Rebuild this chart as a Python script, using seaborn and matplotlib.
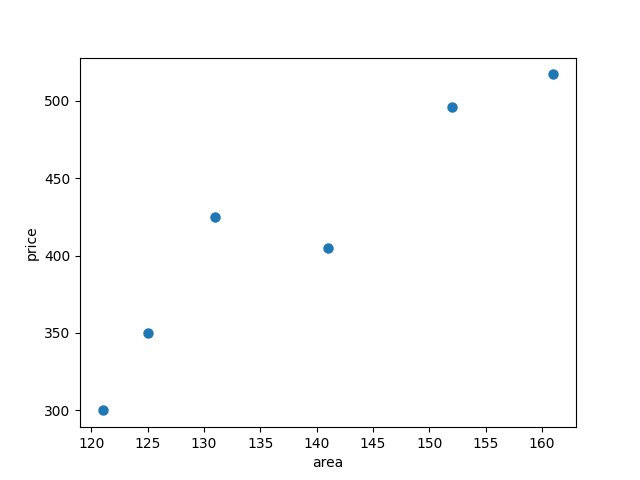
import matplotlib
matplotlib.use("Agg")
import matplotlib.pyplot as plt
import seaborn as sns
import pandas as pd

# dados
area = [121, 125, 131, 141, 152, 161]
price = [300, 350, 425, 405, 496, 517]

df = pd.DataFrame({"area": area, "price": price})

fig, ax = plt.subplots(figsize=(6.4, 4.8), dpi=100)

sns.scatterplot(
    data=df,
    x="area",
    y="price",
    color="#1f77b4",
    s=36,
    edgecolor="#1f77b4",
    linewidth=1.5,
    ax=ax
)

ax.set_xlabel("area")
ax.set_ylabel("price")

plt.savefig("out.png", dpi=100)
